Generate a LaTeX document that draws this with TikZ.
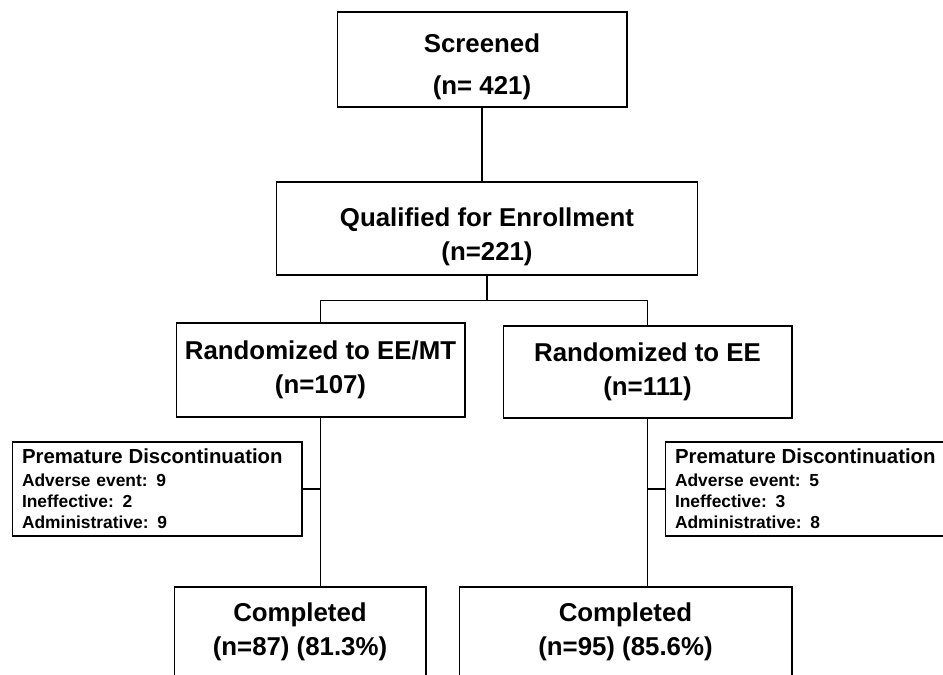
\documentclass[tikz,border=0pt]{standalone}
\usepackage{fontspec}
\setmainfont{Liberation Sans}
\usetikzlibrary{positioning}

\begin{document}
\begin{tikzpicture}[x=0.02cm, y=-0.02cm,
  stage/.style={rectangle, draw, line width=0.6pt, align=center, inner sep=0pt,
    font=\fontsize{14.7}{19}\selectfont\bfseries},
  dropout/.style={rectangle, draw, line width=0.6pt, align=left, inner xsep=0.2cm, inner ysep=0pt,
    text width=5.4cm, minimum height=1.88cm, font=\fontsize{9.9}{12}\selectfont\bfseries},
  link/.style={line width=0.6pt}
  ]
  \path[use as bounding box, clip] (0,0) rectangle (943,675);
  \node[stage, minimum width=5.8cm, minimum height=1.9cm, font=\fontsize{14.7}{23.5}\selectfont\bfseries] (scr) at (482,59.5) {\rule{0pt}{19pt}Screened\\(n= 421)};
  \node[stage, minimum width=8.44cm, minimum height=1.86cm] (qual) at (487,228.5) {\rule{0pt}{20pt}Qualified for Enrollment\\(n=221)};
  \node[stage, minimum width=5.78cm, minimum height=1.88cm] (rmt) at (320.5,370) {Randomized to EE/MT\\(n=107)};
  \node[stage, minimum width=5.78cm, minimum height=1.84cm] (ree) at (647.5,372) {Randomized to EE\\(n=111)};
  \node[dropout] (dmt) at (157,489) {{\fontsize{11.6}{13}\selectfont Premature Discontinuation}\\[1pt]Adverse event: 9\\Ineffective: 2\\Administrative: 9};
  \node[dropout] (dee) at (810,489) {{\fontsize{11.6}{13}\selectfont Premature Discontinuation}\\[1pt]Adverse event: 5\\Ineffective: 3\\Administrative: 8};
  \node[stage, minimum width=5.04cm, minimum height=1.8cm] (cmt) at (300,632) {Completed\\(n=87) (81.3\%)};
  \node[stage, minimum width=6.66cm, minimum height=1.8cm] (cee) at (625.5,632) {Completed\\(n=95) (85.6\%)};
  % flow lines
  \draw[link] (scr) -- (scr.south |- qual.north);
  \draw[link] (qual.south) -- ++(0,25) coordinate (fork);
  \draw[link] (rmt.north) |- (fork) -| (ree.north);
  \draw[link] (rmt.south) -- (rmt.south |- cmt.north);
  \draw[link] (ree.south) -- (ree.south |- cee.north);
  \draw[link] (dmt.east) -- (dmt.east -| rmt.south);
  \draw[link] (dee.west) -- (dee.west -| ree.south);
\end{tikzpicture}
\end{document}
